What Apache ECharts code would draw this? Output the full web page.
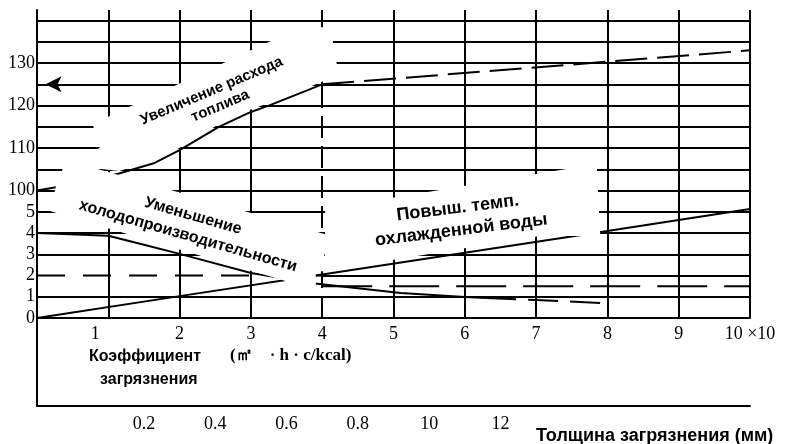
<!DOCTYPE html>
<html><head><meta charset="utf-8">
<script src="https://cdn.jsdelivr.net/npm/echarts@6/dist/echarts.min.js"></script>
<style>html,body{margin:0;padding:0;background:#fff}#c{width:785px;height:444px}</style>
</head><body><div id="c"></div>
<script>
// ---------- tick labels ----------
const xTickLabels = ['', '1', '2', '3', '4', '5', '6', '7', '8', '9', '10 ×10'];
const yTickLabels = ['0', '1', '2', '3', '4', '5', '100', '', '110', '', '120', '', '130', '', ''];
const thicknessLabels = ['', '0.2', '0.4', '0.6', '0.8', '10', '12', '', '', ''];

// ---------- data ----------
// Увеличение расхода топлива (%)
const fuelX = [0, 0.35, 1.15, 1.65, 2.0, 2.55, 3.0, 3.25, 4.0];
const fuelY = [100, 101, 104, 106.5, 109.5, 115, 118.5, 120, 125];
const fuelDashX = [4, 10];
const fuelDashY = [125, 133];

// Уменьшение холодопроизводительности
const capX = [0, 1.0, 1.5, 2.0, 3.0, 3.9, 5.1, 6.0, 6.3];
const capY = [4.0, 3.87, 3.45, 3.02, 2.12, 1.62, 1.18, 0.99, 0.94];
const capDashX = [6.3, 7.0, 7.9];
const capDashY = [0.94, 0.85, 0.71];

// Повыш. темп. охлажденной воды
const tempX = [0, 2, 4, 8, 10];
const tempY = [0, 1.03, 2.05, 4.1, 5.13];

// dashed reference levels
const refLeftX = [0, 4];   const refLeftY = [2, 2];
const refRightX = [4, 10]; const refRightY = [1.5, 1.5];

// grid rows / columns of the chart paper
const gridRows = [1, 2, 3, 4, 5, 6, 7, 8, 9, 10, 11, 12, 13, 14];
const gridCols = [1, 2, 3, 4, 5, 6, 7, 8, 9, 10];

// ---------- helpers ----------
const fuelRow = v => 6 + (v - 100) / 5;   // upper scale (100..) mapped onto the paper rows
const zip = (xs, ys, f) => xs.map((x, i) => [x, f ? f(ys[i]) : ys[i]]);

const BLACK = '#000';
const serif = '"Liberation Serif", "Times New Roman", serif';
const sans = '"Liberation Sans", Arial, sans-serif';

// grid lines (drawn as mark lines so individual lines can differ)
const gridLines = [];
gridRows.forEach(k => gridLines.push([{ coord: [k === 2 ? 4 : 0, k] }, { coord: [10, k] }]));
gridCols.forEach(c => {
  if (c === 4) {
    gridLines.push([{ coord: [4, 11] }, { coord: [4, 14.5] }]);
    gridLines.push([{ coord: [4, 0], lineStyle: { type: [22, 8] } }, { coord: [4, 11] }]);
  } else {
    gridLines.push([{ coord: [c, 0] }, { coord: [c, 14.5] }]);
  }
});

// annotation boxes (white patches with rotated labels), in data units
const annotations = [
  { mask: [[0.78, 9.13], [3.55, 13.47], [4.11, 13.75], [4.22, 11.68], [4.0, 11.12], [3.25, 10.12], [3.0, 9.82],
           [2.55, 9.12], [2.0, 8.02], [1.65, 7.42], [1.15, 6.92], [0.41, 7.2], [0.88, 8.0]],
    texts: [{ t: 'Увеличение расхода', at: [2.45, 10.69], rot: 23, size: 15 },
            { t: 'топлива', at: [2.57, 9.98], rot: 23, size: 15 }] },
  { mask: [[0.41, 7.44], [4.03, 3.95], [4.03, 2.21], [3.91, 2.17], [3.91, 1.32], [0.18, 5.04], [0.27, 6.26]],
    texts: [{ t: 'Уменьшение', at: [2.19, 4.80], rot: -16, size: 16 },
            { t: 'холодопроизводительности', at: [2.12, 3.86], rot: -16, size: 16 }] },
  { mask: [[4.04, 5.13], [7.85, 7.25], [7.9, 3.86], [7.05, 3.86], [4.04, 2.21]],
    texts: [{ t: 'Повыш. темп.', at: [5.9, 5.18], rot: 7, size: 18 },
            { t: 'охлажденной воды', at: [5.95, 4.14], rot: 7, size: 18 }] }
];

const lineBase = { type: 'line', symbol: 'none', silent: true, animation: false, z: 3 };

const chart = echarts.init(document.getElementById('c'), null, { renderer: 'canvas' });
chart.setOption({
  animation: false,
  backgroundColor: '#fff',
  grid: [
    { left: 37, right: 35, top: 10, bottom: 126 },
    { left: 37, right: 35, top: 318, bottom: 38 }
  ],
  xAxis: [
    { type: 'value', gridIndex: 0, min: 0, max: 10, interval: 1,
      axisLine: { lineStyle: { color: BLACK, width: 2 } }, axisTick: { show: false }, splitLine: { show: false },
      axisLabel: { color: BLACK, fontFamily: serif, fontSize: 18, margin: 7,
        formatter: v => v === 1 ? '{o|1}' : (xTickLabels[v] || ''),
        rich: { o: { fontFamily: serif, fontSize: 18, color: BLACK, padding: [0, 26, 0, 0] } } } },
    { type: 'category', gridIndex: 1, data: thicknessLabels, boundaryGap: true,
      axisLine: { lineStyle: { color: BLACK, width: 2 } },
      axisTick: { inside: true, length: 10, interval: 0, lineStyle: { color: BLACK, width: 2 } },
      axisLabel: { interval: 0, color: BLACK, fontFamily: serif, fontSize: 18, margin: 9 } }
  ],
  yAxis: [
    { type: 'value', gridIndex: 0, min: 0, max: 14.5, interval: 1,
      axisLine: { show: true, lineStyle: { color: BLACK, width: 2 } }, axisTick: { show: false },
      splitLine: { show: false },
      axisLabel: { color: BLACK, fontFamily: serif, fontSize: 18, margin: 2, showMaxLabel: false,
        formatter: v => yTickLabels[v] || '' } },
    { type: 'value', gridIndex: 1, min: 0, max: 1,
      axisLine: { show: true, lineStyle: { color: BLACK, width: 2 } }, axisTick: { show: false },
      splitLine: { show: false }, axisLabel: { show: false } }
  ],
  series: [
    { type: 'line', data: [], silent: true, z: 1, animation: false,
      markLine: { silent: true, symbol: 'none', animation: false, label: { show: false },
        lineStyle: { color: BLACK, width: 2, type: 'solid' }, data: gridLines } },
    { ...lineBase, name: 'arrow', data: [],
      markLine: { silent: true, symbol: ['none', 'arrow'], symbolSize: [12, 16], animation: false, label: { show: false },
        lineStyle: { color: BLACK, width: 2, type: 'solid' },
        data: [[{ coord: [2, fuelRow(125)] }, { coord: [0.12, fuelRow(125)] }]] } },
    { ...lineBase, name: 'fuel', data: zip(fuelX, fuelY, fuelRow), lineStyle: { color: BLACK, width: 2 } },
    { ...lineBase, name: 'fuelDash', data: zip(fuelDashX, fuelDashY, fuelRow), lineStyle: { color: BLACK, width: 2, type: [32, 10] } },
    { ...lineBase, name: 'cap', data: zip(capX, capY), lineStyle: { color: BLACK, width: 2 } },
    { ...lineBase, name: 'capDash', data: zip(capDashX, capDashY), lineStyle: { color: BLACK, width: 2, type: [30, 12] } },
    { ...lineBase, name: 'temp', data: zip(tempX, tempY), lineStyle: { color: BLACK, width: 2 } },
    { ...lineBase, name: 'refL', data: zip(refLeftX, refLeftY), lineStyle: { color: BLACK, width: 2, type: [28, 18] } },
    { ...lineBase, name: 'refR', data: zip(refRightX, refRightY), lineStyle: { color: BLACK, width: 2, type: [50, 17] } },
    { type: 'custom', name: 'labels', z: 5, silent: true, clip: false, animation: false,
      data: annotations.map((a, i) => [i, 0]),
      renderItem: (params, api) => {
        const a = annotations[params.dataIndex];
        const children = [{ type: 'polygon', z2: 0, shape: { points: a.mask.map(p => api.coord(p)) },
          style: { fill: '#fff' } }];
        a.texts.forEach(t => {
          const p = api.coord(t.at);
          children.push({ type: 'text', z2: 10, x: p[0], y: p[1], rotation: t.rot * Math.PI / 180,
            style: { text: t.t, fill: BLACK, font: `bold ${t.size}px ${sans}`, align: 'center', verticalAlign: 'middle' } });
        });
        return { type: 'group', children };
      } }
  ],
  graphic: [
    { type: 'text', left: 89, top: 349, style: { text: 'Коэффициент', fill: BLACK, font: `bold 16px ${sans}` } },
    { type: 'text', left: 100, top: 372, style: { text: 'загрязнения', fill: BLACK, font: `bold 16px ${sans}` } },
    { type: 'text', left: 230, top: 347, style: { text: '(㎡    · h · c/kcal)', fill: BLACK, font: `bold 17px ${serif}` } },
    { type: 'text', left: 536, top: 427, style: { text: 'Толщина загрязнения (мм)', fill: BLACK, font: `bold 18px ${sans}` } }
  ]
});
</script>
</body></html>
